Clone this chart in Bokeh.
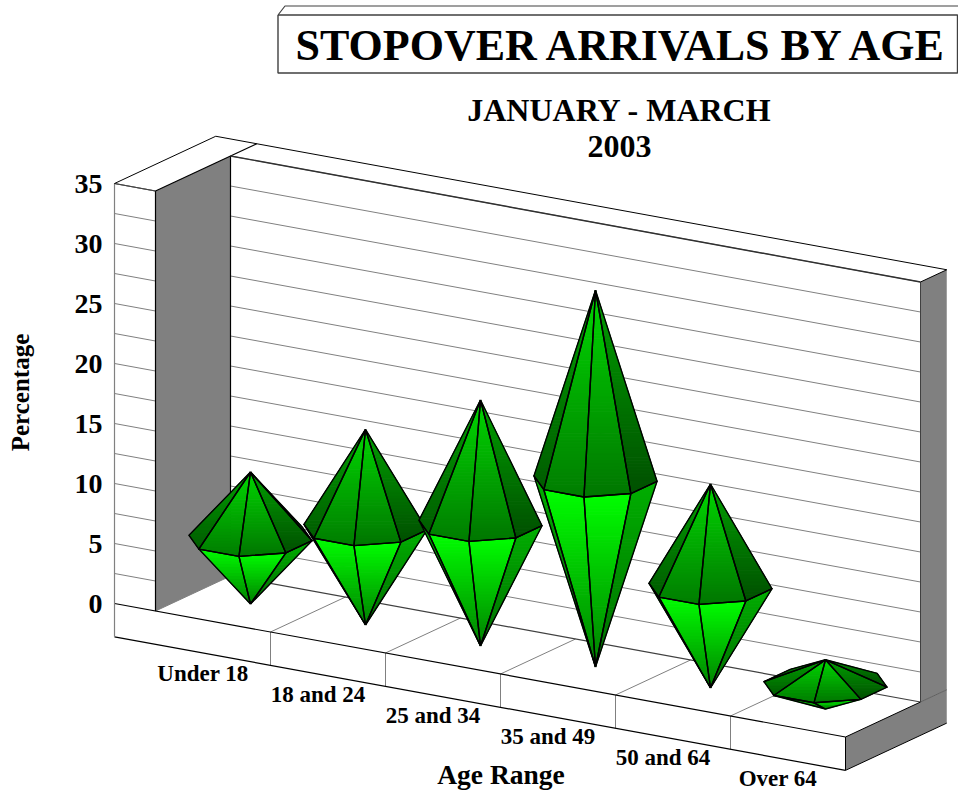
import math
from bokeh.plotting import figure
from bokeh.models import Range1d, FixedTicker
from bokeh.core.properties import value
from bokeh.embed import file_html
from bokeh.resources import INLINE

categories = ["Under 18", "18 and 24", "25 and 34", "35 and 49", "50 and 64", "Over 64"]
percentages = [11.0, 16.3, 20.5, 31.4, 17.0, 4.1]
tick_values = [0, 5, 10, 15, 20, 25, 30, 35]
grid_values = [v * 2.5 for v in range(0, 15)]
title_text = "STOPOVER ARRIVALS BY AGE"
subtitle_lines = ["JANUARY - MARCH", "2003"]
x_title = "Age Range"
y_title = "Percentage"

# oblique projection: category position, depth (0 front .. 1 back wall), value
X0, Y0, DX_C, DY_C, DX_D, DY_D, PX_PER_UNIT = 155.0, 610.5, 115.0, 21.0, 75.0, -35.0, 12.0
AXIS_ZERO = 603.0
WALL = -0.3565     # left wall thickness in category units
CAP = 1.35         # depth of the top cap
PLINTH = -2.78     # value of the plinth's lower edge
TOP = 35.0
RADIUS = 0.456
ABOVE = 9          # px of the canvas above the page, so that the axis title centres at y=392

FONT = value("Liberation Serif")
GRAY = "#808080"


def sy2d(sy):
    return (AXIS_ZERO - sy) / PX_PER_UNIT


def scr(c, d, v):
    return (X0 + DX_C * c + DX_D * d, Y0 + DY_C * c + DY_D * d - PX_PER_UNIT * v)


def to_data(pts):
    return [p_[0] for p_ in pts], [sy2d(p_[1]) for p_ in pts]


p = figure(width=958, height=793 + ABOVE, output_backend="svg", toolbar_location=None,
           x_range=Range1d(107, 958), y_range=Range1d(sy2d(793), sy2d(-ABOVE)),
           x_axis_location=None, min_border_left=107, min_border_right=0,
           min_border_top=0, min_border_bottom=0, outline_line_color=None,
           background_fill_color="white", border_fill_color="white")
p.styles = {"margin-top": f"-{ABOVE}px"}
p.grid.visible = False
ax = p.yaxis[0]
ax.ticker = FixedTicker(ticks=tick_values)
ax.axis_line_color = None
ax.major_tick_line_color = None
ax.minor_tick_line_color = None
ax.major_tick_out = 0
ax.major_tick_in = 0
ax.major_label_standoff = 5
ax.major_label_text_font = "Liberation Serif"
ax.major_label_text_font_style = "bold"
ax.major_label_text_font_size = "28px"
ax.major_label_text_color = "black"
ax.axis_label = y_title
ax.axis_label_text_font = "Liberation Serif"
ax.axis_label_text_font_style = "bold"
ax.axis_label_text_font_size = "25px"
ax.axis_label_text_color = "black"
ax.axis_label_standoff = 38


def poly(pts, fill=None, line=None, lw=1.0):
    xs, ys = to_data(pts)
    p.patch(xs, ys, fill_color=fill or "white", fill_alpha=1 if fill else 0,
            line_color=line, line_width=lw)


def seg(a, b, color="black", lw=1.0):
    xs, ys = to_data([a, b])
    p.line(xs, ys, line_color=color, line_width=lw)


# ---- frame: gray faces
poly([scr(0, 0, 0), scr(0, 1, 0), scr(0, 1, TOP), scr(0, 0, TOP)], GRAY)
poly([scr(6, 1, 0), scr(6, CAP, 0), scr(6, CAP, TOP), scr(6, 1, TOP)], GRAY)
poly([scr(6, 0, 0), scr(6, CAP, 0), scr(6, CAP, PLINTH), scr(6, 0, PLINTH)], GRAY)

# grid lines on the back wall and the left wall's front face
for g in grid_values[1:]:
    seg(scr(0, 1, g), scr(6, 1, g), GRAY, 1.0)
for g in grid_values[1:] + [TOP]:
    seg(scr(WALL, 0, g), scr(0, 0, g), GRAY, 1.0)

# category dividers on floor and plinth
for c in range(1, 6):
    seg(scr(c, 0, 0), scr(c, 1, 0), GRAY, 1.0)
    seg(scr(c, 0, 0), scr(c, 0, PLINTH), GRAY, 1.0)

# frame edges
seg(scr(0, 1, 0), scr(6, 1, 0), "#404040", 1.2)
seg(scr(0, 0, 0), scr(0, 1, 0), GRAY, 1.0)
seg(scr(6, 0, 0), scr(6, 1, 0), "black", 1.0)
seg(scr(6, 1, 0), scr(6, CAP, 0), "#606060", 1.0)
seg(scr(WALL, 0, 0), scr(6, 0, 0), "black", 1.2)
seg(scr(WALL, 0, PLINTH), scr(6, 0, PLINTH), "black", 1.2)
seg(scr(6, 0, 0), scr(6, 0, PLINTH), "black", 1.0)
seg(scr(6, 0, PLINTH), scr(6, CAP, PLINTH), "black", 1.0)
seg(scr(WALL, 0, TOP), scr(WALL, 0, PLINTH), GRAY, 1.2)
seg(scr(0, 0, 0), scr(0, 0, TOP), "black", 1.2)
seg(scr(0, 1, 0), scr(0, 1, TOP), "black", 1.2)
seg(scr(6, 1, 0), scr(6, 1, TOP), "#404040", 1.0)
seg(scr(WALL, 0, TOP), scr(0, 0, TOP), "#404040", 1.2)
seg(scr(0, 0, TOP), scr(0, CAP, TOP), "black", 1.2)
seg(scr(0, 1, TOP), scr(6, 1, TOP), "#303030", 1.4)
seg(scr(WALL, 0, TOP), scr(WALL, CAP, TOP), "black", 1.0)
seg(scr(WALL, CAP, TOP), scr(6, CAP, TOP), "black", 1.0)
seg(scr(6, 1, TOP), scr(6, CAP, TOP), "black", 1.0)

# ---- diamonds: green-channel shades of each of the 8 faces
UP = {0: (140, 72), 1: (120, 60), 2: (120, 60), 3: (140, 72),
      4: (160, 92), 5: (215, 125), 6: (215, 118), 7: (160, 80)}
LOW = {0: (120, 70), 1: (120, 70), 2: (120, 70), 3: (120, 70),
       4: (175, 100), 5: (255, 128), 6: (255, 128), 7: (175, 110)}


def clip(pts, lo, hi):
    def half(poly_, y, keep_below):
        out = []
        for k in range(len(poly_)):
            a, b = poly_[k], poly_[(k + 1) % len(poly_)]
            ina = a[1] >= y if keep_below else a[1] <= y
            inb = b[1] >= y if keep_below else b[1] <= y
            if ina:
                out.append(a)
            if ina != inb:
                t = (y - a[1]) / (b[1] - a[1])
                out.append((a[0] + t * (b[0] - a[0]), y))
        return out
    r = half(pts, lo, True)
    return half(r, hi, False) if r else r


def cross(o, a, b):
    return (a[0] - o[0]) * (b[1] - o[1]) - (b[0] - o[0]) * (a[1] - o[1])


for i, val in enumerate(percentages):
    cx, cy = i + 0.5, 0.5
    ring = []
    for k in range(8):
        th = math.radians(22.5 + 45 * k)
        ring.append(scr(cx + RADIUS * math.cos(th), cy + RADIUS * math.sin(th), val / 2))
    apex_top = scr(cx, cy, val)
    apex_low = scr(cx, cy, 0)
    bx, by, bc = [], [], []
    ox, oy = [], []
    faces = []
    for k in range(8):
        a, b = ring[k], ring[(k + 1) % 8]
        if cross(apex_low, a, b) > 0:
            faces.append((apex_low, a, b, LOW[k][1], LOW[k][0]))
    for k in range(8):
        a, b = ring[k], ring[(k + 1) % 8]
        if cross(apex_top, a, b) < 0:
            faces.append((apex_top, a, b, UP[k][0], UP[k][1]))
    for ap, a, b, c_ap, c_ring in faces:
        tri = [ap, a, b]
        lo = min(q[1] for q in tri)
        hi = max(q[1] for q in tri)
        n = max(2, int((hi - lo) / 3))
        for s in range(n):
            y0, y1 = lo + (hi - lo) * s / n, lo + (hi - lo) * (s + 1) / n
            band = clip(tri, y0, y1)
            if len(band) < 3:
                continue
            t = abs((y0 + y1) / 2 - ap[1]) / (hi - lo)
            g = int(round(c_ap + (c_ring - c_ap) * t))
            xs, ys = to_data(band)
            bx.append(xs)
            by.append(ys)
            bc.append("#00%02x00" % g)
        xs, ys = to_data(tri + [tri[0]])
        ox.append(xs)
        oy.append(ys)
    p.patches(bx, by, fill_color=bc, line_color=bc, line_width=1.0)
    p.multi_line(ox, oy, line_color="black", line_width=1.4, line_join="round")


def txt(x, sy, s, size):
    p.text([x], [sy2d(sy)], text=[s], text_font=FONT, text_font_style="bold",
           text_font_size=size, text_align="center", text_baseline="middle",
           text_color="black")


# ---- title box
TB_L, TB_T, TB_B, TB_BACK, TB_R = 277.5, 14.5, 72.5, 5.5, 957.0
xs, ys = to_data([(TB_L, TB_T), (TB_L, TB_B), (TB_R, TB_B), (TB_R, TB_T), (TB_L, TB_T)])
p.line(xs, ys, line_color="#404040", line_width=1.4)
xs, ys = to_data([(TB_L, TB_T), (TB_L + 7, TB_BACK), (958, TB_BACK)])
p.line(xs, ys, line_color="#404040", line_width=1.2)

txt(622.5, 45, title_text, "44px")
txt(619, 109, subtitle_lines[0], "32px")
txt(619, 146, subtitle_lines[1], "32px")

for i, name in enumerate(categories):
    sx, sy = scr(i + 0.5, 0, 0)
    txt(sx - 10, sy + 52, name, "23px")

txt(500.5, 774, x_title, "27.5px")

open("out.html", "w").write(file_html(p, INLINE))
